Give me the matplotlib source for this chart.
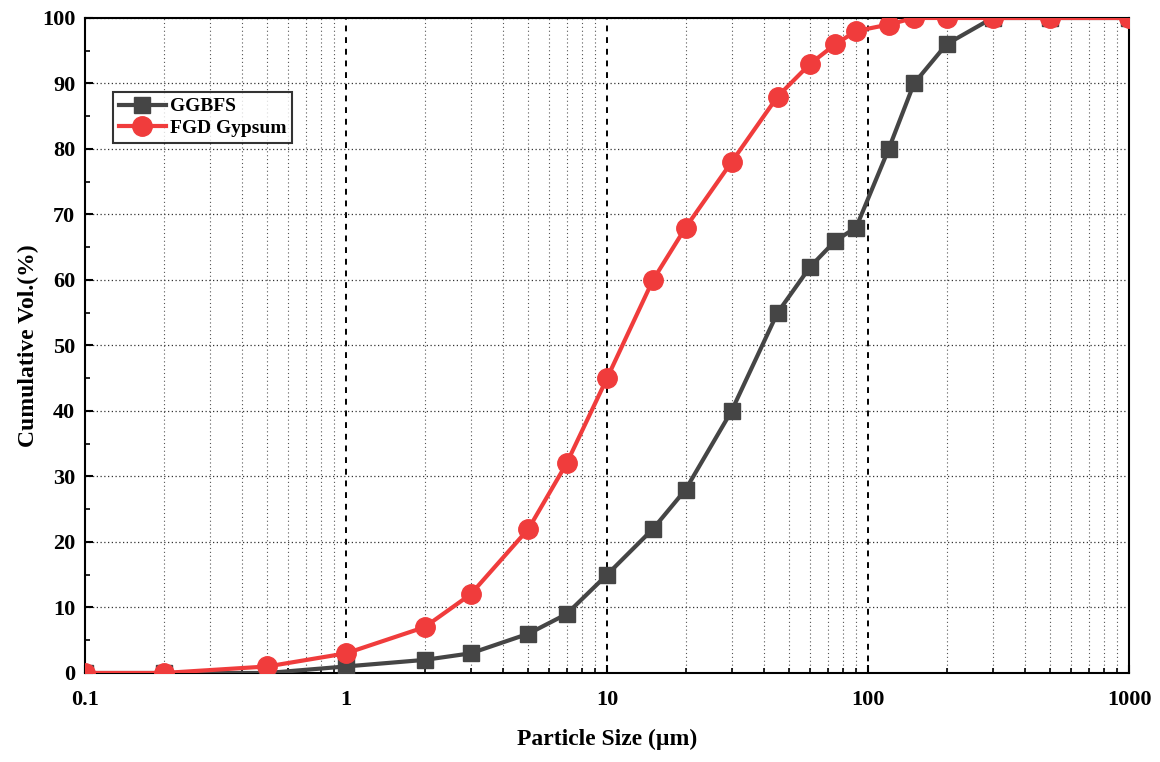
import matplotlib.pyplot as plt
from matplotlib.ticker import LogLocator, FixedLocator, NullFormatter, FuncFormatter

plt.rcParams['font.family'] = ['Liberation Serif', 'DejaVu Serif']
plt.rcParams['font.weight'] = 'bold'

# particle sizes (um) and cumulative volume (%)
size_ggbfs = [0.1, 0.2, 0.5, 1, 2, 3, 5, 7, 10, 15, 20, 30, 45, 60, 75, 90,
              120, 150, 200, 300, 500, 1000]
vol_ggbfs = [0, 0, 0, 1, 2, 3, 6, 9, 15, 22, 28, 40, 55, 62, 66, 68,
             80, 90, 96, 100, 100, 100]
size_fgd = [0.1, 0.2, 0.5, 1, 2, 3, 5, 7, 10, 15, 20, 30, 45, 60, 75, 90,
            120, 150, 200, 300, 500, 1000]
vol_fgd = [0, 0, 1, 3, 7, 12, 22, 32, 45, 60, 68, 78, 88, 93, 96, 98,
           99, 100, 100, 100, 100, 100]

fig = plt.figure(figsize=(11.6, 7.62), dpi=100)
ax = fig.add_axes([0.0733, 0.1168, 0.9, 0.8596])

ax.plot(size_ggbfs, vol_ggbfs, color='#454545', marker='s', markersize=12,
        linewidth=3, label='GGBFS', zorder=3)
ax.plot(size_fgd, vol_fgd, color='#f03c3c', marker='o', markersize=14,
        linewidth=3, label='FGD Gypsum', zorder=4)

ax.set_xscale('log')
ax.set_xlim(0.1, 1000)
ax.set_ylim(0, 100)
ax.xaxis.set_major_locator(FixedLocator([0.1, 1, 10, 100, 1000]))
ax.xaxis.set_major_formatter(FuncFormatter(lambda v, p: f'{v:g}'))
ax.xaxis.set_minor_locator(LogLocator(base=10, subs=range(2, 10)))
ax.xaxis.set_minor_formatter(NullFormatter())
ax.set_yticks(range(0, 101, 10))
ax.set_yticks(range(5, 100, 10), minor=True)

ax.grid(which='major', axis='x', color='black', linestyle=(0, (3, 3)), linewidth=1.4)
ax.grid(which='minor', axis='x', color='#555555', linestyle=(0, (1, 2.5)), linewidth=0.8)
ax.grid(which='major', axis='y', color='#333333', linestyle=(0, (1, 2)), linewidth=0.9)

ax.tick_params(which='major', direction='in', length=6, width=1.5, labelsize=16)
ax.tick_params(axis='x', which='major', pad=12)
ax.tick_params(axis='y', which='major', pad=7)
ax.tick_params(which='minor', direction='in', length=3.5, width=1.2)
for s in ax.spines.values():
    s.set_linewidth(1.5)

ax.set_xlabel('Particle Size (µm)', fontsize=17, fontweight='bold', labelpad=14)
ax.set_ylabel('Cumulative Vol.(%)', fontsize=17, fontweight='bold', labelpad=2)

leg = ax.legend(loc='upper left', bbox_to_anchor=(0.027, 0.887), fontsize=14,
                frameon=True, fancybox=False, edgecolor='black',
                borderpad=0.3, handlelength=2.4, labelspacing=0.2,
                handletextpad=0.2, borderaxespad=0)
leg.get_frame().set_linewidth(1.5)

plt.savefig('out.png', dpi=100)
